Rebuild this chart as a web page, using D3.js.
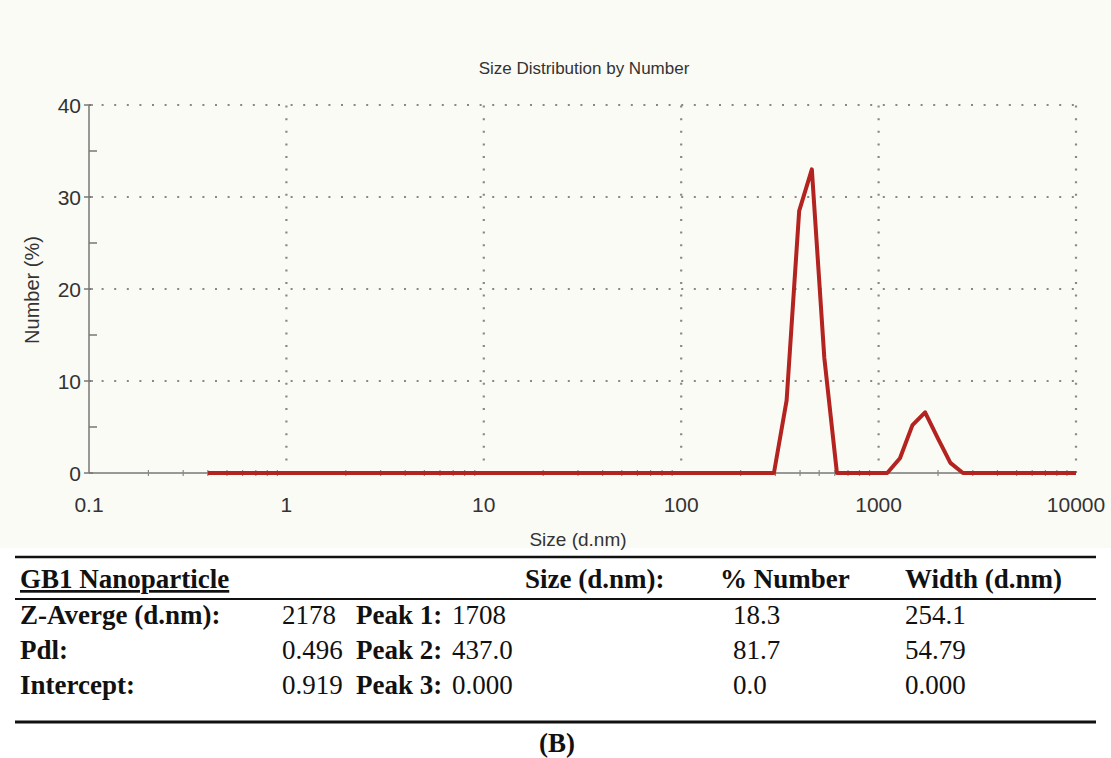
<!DOCTYPE html>
<html>
<head>
<meta charset="utf-8">
<script src="https://cdn.jsdelivr.net/npm/d3@7/dist/d3.min.js"></script>
<style>
  html, body { margin: 0; padding: 0; background: #fff; }
  svg { display: block; }
  .tick-lbl { font-family: "Liberation Sans", Arial, sans-serif; font-size: 21px; fill: #333; }
  .tbl { font-family: "Liberation Serif", "Times New Roman", serif; font-size: 27px; fill: #111; }
  .b { font-weight: bold; }
</style>
</head>
<body>
<div id="chart"></div>
<script>
// --- data: size distribution by number (bin size in d.nm, number %) ---
const sizes   = [0.4, 295, 342, 396, 459, 531, 615, 1106, 1283, 1484, 1720, 1994, 2310, 2675, 10000];
const numbers = [0,   0,   7.9, 28.5, 33.0, 12.5, 0,  0,    1.6,  5.2,  6.6,  3.8,  1.1,  0,    0];

const xTicks = [0.1, 1, 10, 100, 1000, 10000];
const yTicks = [0, 10, 20, 30, 40];
const yMinor = [5, 15, 25, 35];

// --- table ---
const tableTitle = "GB1 Nanoparticle";
const colHeads = ["Size (d.nm):", "% Number", "Width (d.nm)"];
const rowLabels = ["Z-Averge (d.nm):", "Pdl:", "Intercept:"];
const rowValues = ["2178", "0.496", "0.919"];
const peakLabels = ["Peak 1:", "Peak 2:", "Peak 3:"];
const peakSizes = ["1708", "437.0", "0.000"];
const peakNumbers = ["18.3", "81.7", "0.0"];
const peakWidths = ["254.1", "54.79", "0.000"];
const caption = "(B)";

const W = 1111, H = 758;
const margin = { top: 105, left: 89, right: 35, bottom: 285 };
const plotW = W - margin.left - margin.right;
const plotH = H - margin.top - margin.bottom;

const svg = d3.select("#chart").append("svg")
  .attr("width", W)
  .attr("height", H);

// paper-ish background of the scanned chart
svg.append("rect")
  .attr("width", W).attr("height", 548)
  .attr("fill", "#fbfbf6");

const g = svg.append("g")
  .attr("transform", `translate(${margin.left},${margin.top})`);

const x = d3.scaleLog().domain([0.1, 10000]).range([0, plotW]);
const y = d3.scaleLinear().domain([0, 40]).range([plotH, 0]);

// dotted grid
const dot = { stroke: "#888", width: 2.2, dash: "2,10.6" };
g.append("g").selectAll("line")
  .data(yTicks.filter(d => d > 0))
  .join("line")
  .attr("x1", 0).attr("x2", plotW)
  .attr("y1", d => y(d)).attr("y2", d => y(d))
  .attr("stroke", dot.stroke).attr("stroke-width", dot.width)
  .attr("stroke-dasharray", dot.dash);

g.append("g").selectAll("line")
  .data(xTicks.filter(d => d > 0.1))
  .join("line")
  .attr("x1", d => x(d)).attr("x2", d => x(d))
  .attr("y1", plotH).attr("y2", 0)
  .attr("stroke", dot.stroke).attr("stroke-width", dot.width)
  .attr("stroke-dasharray", dot.dash);

// axes lines
g.append("line")
  .attr("x1", 0).attr("x2", 0).attr("y1", 0).attr("y2", plotH)
  .attr("stroke", "#777").attr("stroke-width", 1.5);
g.append("line")
  .attr("x1", 0).attr("x2", plotW).attr("y1", plotH).attr("y2", plotH)
  .attr("stroke", "#777").attr("stroke-width", 1.5);

// y ticks
g.append("g").selectAll("line")
  .data(yTicks)
  .join("line")
  .attr("x1", -5).attr("x2", 4)
  .attr("y1", d => y(d)).attr("y2", d => y(d))
  .attr("stroke", "#777").attr("stroke-width", 1.5);
g.append("g").selectAll("line")
  .data(yMinor)
  .join("line")
  .attr("x1", 0).attr("x2", 8)
  .attr("y1", d => y(d)).attr("y2", d => y(d))
  .attr("stroke", "#777").attr("stroke-width", 1.5);

g.append("g").selectAll("text")
  .data(yTicks)
  .join("text")
  .attr("class", "tick-lbl")
  .attr("x", -8)
  .attr("y", d => y(d) + 8)
  .attr("text-anchor", "end")
  .text(d => d);

// x minor ticks (2..9 per decade)
const minor = [];
xTicks.slice(0, -1).forEach(t => { for (let k = 2; k < 10; k++) minor.push(t * k); });
g.append("g").selectAll("line")
  .data(minor)
  .join("line")
  .attr("x1", d => x(d)).attr("x2", d => x(d))
  .attr("y1", plotH - 3).attr("y2", plotH + 3)
  .attr("stroke", "#888").attr("stroke-width", 1.2);

g.append("g").selectAll("text")
  .data(xTicks)
  .join("text")
  .attr("class", "tick-lbl")
  .attr("x", d => x(d))
  .attr("y", plotH + 39)
  .attr("text-anchor", "middle")
  .text(d => d);

// labels
svg.append("text")
  .attr("x", 584).attr("y", 74)
  .attr("text-anchor", "middle")
  .style("font-family", "Liberation Sans, Arial, sans-serif")
  .style("font-size", "17px").style("fill", "#333")
  .text("Size Distribution by Number");

svg.append("text")
  .attr("x", 578).attr("y", 546)
  .attr("text-anchor", "middle")
  .style("font-family", "Liberation Sans, Arial, sans-serif")
  .style("font-size", "19px").style("fill", "#333")
  .text("Size (d.nm)");

svg.append("text")
  .attr("transform", "translate(39,290) rotate(-90)")
  .attr("text-anchor", "middle")
  .style("font-family", "Liberation Sans, Arial, sans-serif")
  .style("font-size", "20px").style("fill", "#333")
  .text("Number (%)");

// the distribution curve
const line = d3.line()
  .x((d, i) => x(sizes[i]))
  .y(d => y(d));

g.append("path")
  .datum(numbers)
  .attr("fill", "none")
  .attr("stroke", "#b3231f")
  .attr("stroke-width", 4)
  .attr("stroke-linejoin", "round")
  .attr("d", line);

// --- table below ---
const tbl = svg.append("g");
const col = { label: 20, val: 282, peak: 356, size: 452, num: 733, width: 905 };
const rowY = [624, 659, 694];

tbl.append("line").attr("x1", 15).attr("x2", 1096).attr("y1", 557).attr("y2", 557)
  .attr("stroke", "#111").attr("stroke-width", 2.5);
tbl.append("line").attr("x1", 15).attr("x2", 1096).attr("y1", 599).attr("y2", 599)
  .attr("stroke", "#111").attr("stroke-width", 1.8);
tbl.append("line").attr("x1", 15).attr("x2", 1096).attr("y1", 722).attr("y2", 722)
  .attr("stroke", "#111").attr("stroke-width", 2.8);

tbl.append("text")
  .attr("class", "tbl b")
  .attr("x", col.label).attr("y", 588)
  .style("text-decoration", "underline")
  .text(tableTitle);

tbl.selectAll(".hd")
  .data(colHeads)
  .join("text")
  .attr("class", "tbl b hd")
  .attr("x", (d, i) => [525, 720, 905][i])
  .attr("y", 588)
  .text(d => d);

function column(values, xPos, bold) {
  tbl.append("g").selectAll("text")
    .data(values)
    .join("text")
    .attr("class", bold ? "tbl b" : "tbl")
    .attr("x", xPos)
    .attr("y", (d, i) => rowY[i])
    .text(d => d);
}
column(rowLabels, col.label, true);
column(rowValues, col.val, false);
column(peakLabels, col.peak, true);
column(peakSizes, col.size, false);
column(peakNumbers, col.num, false);
column(peakWidths, col.width, false);

tbl.append("text")
  .attr("class", "tbl b")
  .attr("x", 557).attr("y", 752)
  .attr("text-anchor", "middle")
  .text(caption);
</script>
</body>
</html>
